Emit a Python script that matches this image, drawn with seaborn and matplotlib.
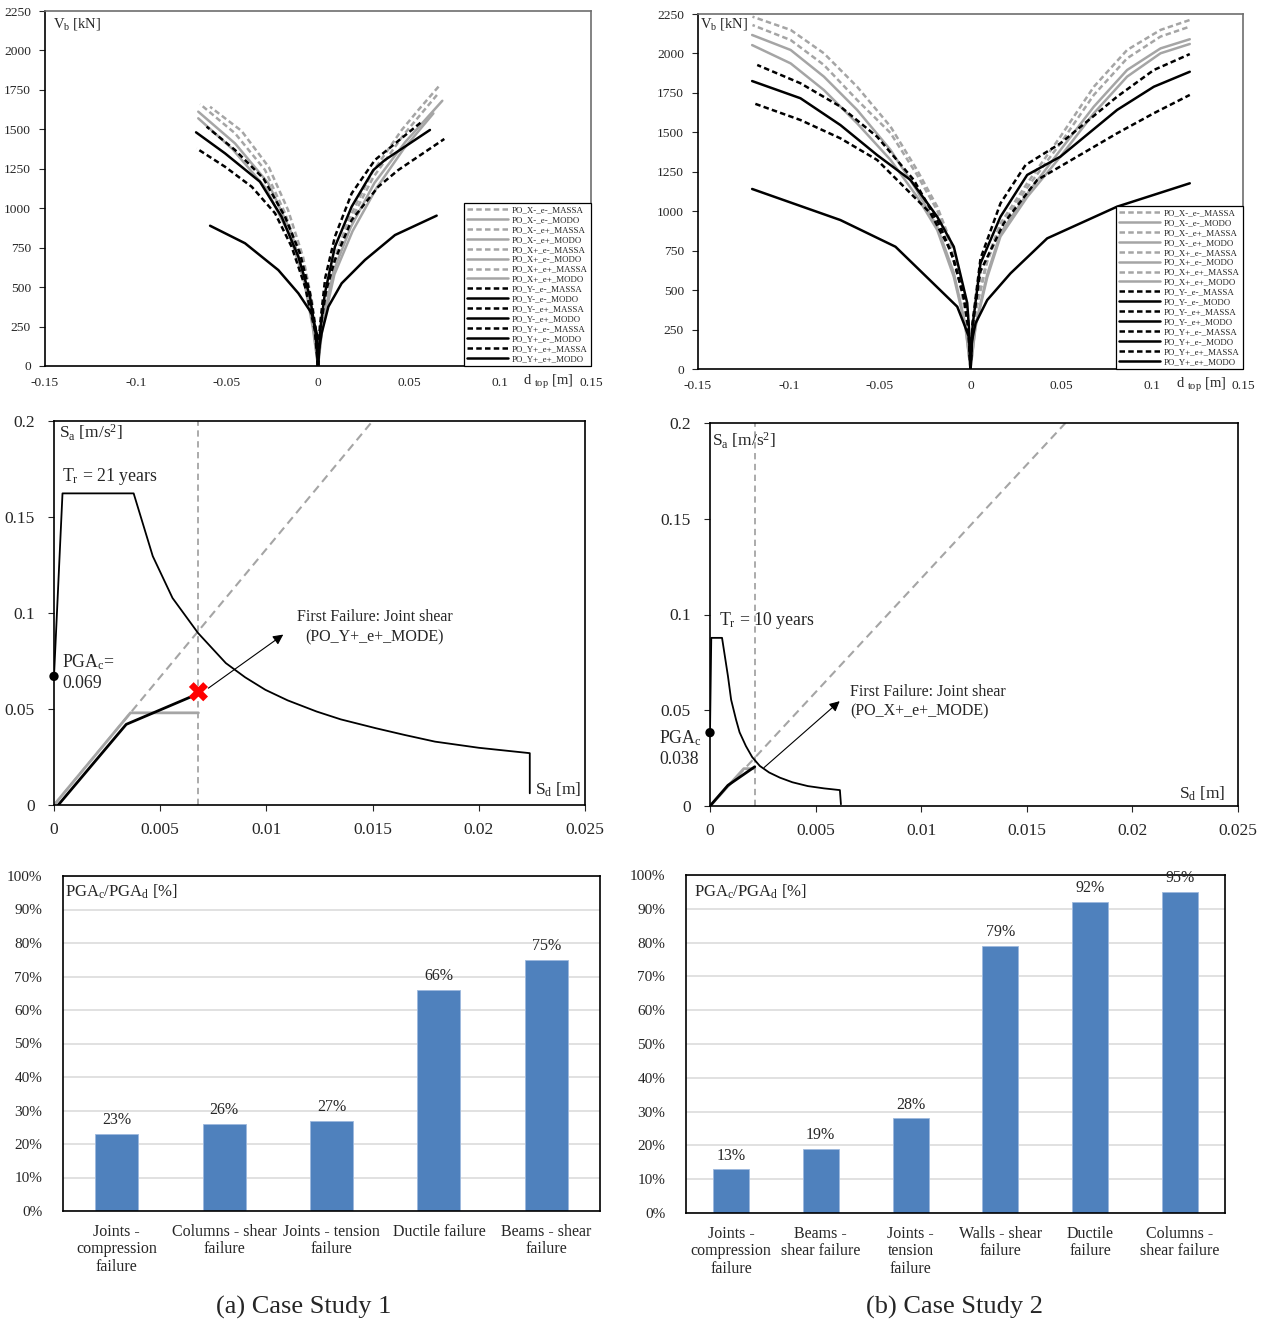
import numpy as np
import matplotlib
matplotlib.use("Agg")
import matplotlib.pyplot as plt
import matplotlib.ticker as mticker
import seaborn as sns

# ---------------- data ----------------
curve_names = ["PO_X-_e-_MASSA", "PO_X-_e-_MODO", "PO_X-_e+_MASSA", "PO_X-_e+_MODO",
               "PO_X+_e-_MASSA", "PO_X+_e-_MODO", "PO_X+_e+_MASSA", "PO_X+_e+_MODO",
               "PO_Y-_e-_MASSA", "PO_Y-_e-_MODO", "PO_Y-_e+_MASSA", "PO_Y-_e+_MODO",
               "PO_Y+_e-_MASSA", "PO_Y+_e-_MODO", "PO_Y+_e+_MASSA", "PO_Y+_e+_MODO"]

# case study 1 pushover curves (d_top [m], Vb [kN]), same order as curve_names
cs1_d = [
    [0, -0.0012, -0.0035, -0.009, -0.0181, -0.0291, -0.0456, -0.0648],
    [0, -0.0026, -0.0071, -0.0145, -0.0273, -0.0456, -0.0658],
    [0, -0.001, -0.003, -0.0082, -0.0165, -0.027, -0.042, -0.0593],
    [0, -0.0028, -0.0075, -0.0152, -0.0285, -0.047, -0.0658],
    [0, 0.0012, 0.0075, 0.0167, 0.0295, 0.046, 0.0551, 0.067],
    [0, 0.0022, 0.0085, 0.018, 0.031, 0.048, 0.0683],
    [0, 0.0012, 0.0078, 0.0172, 0.0303, 0.047, 0.0661],
    [0, 0.0024, 0.009, 0.019, 0.032, 0.047, 0.0634],
    [0, -0.0012, -0.0044, -0.0099, -0.0181, -0.03, -0.0456, -0.0612],
    [0, -0.0013, -0.0044, -0.0108, -0.02, -0.0319, -0.0511, -0.067],
    [0, -0.0018, -0.0071, -0.0145, -0.0236, -0.0364, -0.0511, -0.0667],
    [0, -0.0007, -0.0035, -0.0108, -0.0218, -0.0401, -0.0593],
    [0, 0.001, 0.004, 0.0093, 0.0185, 0.0313, 0.057],
    [0, 0.0012, 0.0038, 0.0093, 0.0185, 0.0304, 0.0368, 0.0615],
    [0, 0.0012, 0.0045, 0.0093, 0.0185, 0.0331, 0.0441, 0.0694],
    [0, 0.0008, 0.002, 0.0057, 0.013, 0.0258, 0.0423, 0.0652],
]
cs1_v = [
    [0, 200, 376, 672, 968, 1242, 1475, 1660],
    [0, 249, 545, 841, 1158, 1411, 1612],
    [0, 200, 390, 690, 990, 1260, 1490, 1643],
    [0, 240, 530, 820, 1125, 1375, 1570],
    [0, 200, 629, 925, 1221, 1496, 1622, 1781],
    [0, 250, 600, 880, 1160, 1420, 1681],
    [0, 200, 615, 905, 1195, 1465, 1728],
    [0, 240, 580, 855, 1125, 1375, 1601],
    [0, 230, 461, 714, 946, 1189, 1369, 1517],
    [0, 207, 439, 693, 946, 1168, 1348, 1481],
    [0, 230, 503, 756, 968, 1136, 1263, 1379],
    [0, 207, 334, 461, 608, 778, 889],
    [0, 250, 560, 820, 1094, 1306, 1548],
    [0, 230, 461, 756, 1010, 1242, 1306, 1496],
    [0, 230, 480, 672, 925, 1136, 1242, 1439],
    [0, 120, 207, 376, 524, 672, 830, 953],
]

# case study 2 pushover curves
cs2_d = [
    [0, -0.0028, -0.0092, -0.0183, -0.0294, -0.044, -0.0624, -0.0807, -0.099, -0.12],
    [0, -0.0028, -0.0092, -0.0183, -0.0294, -0.044, -0.0624, -0.0807, -0.099, -0.1202],
    [0, -0.0028, -0.0092, -0.0183, -0.0294, -0.044, -0.0624, -0.0807, -0.099, -0.12],
    [0, -0.0028, -0.0092, -0.0183, -0.0294, -0.044, -0.0624, -0.0807, -0.099, -0.1202],
    [0, 0.0028, 0.0092, 0.0165, 0.0312, 0.0495, 0.0679, 0.0862, 0.1046, 0.1207],
    [0, 0.0028, 0.0092, 0.0165, 0.0312, 0.0495, 0.0679, 0.0862, 0.1046, 0.1207],
    [0, 0.0028, 0.0092, 0.0165, 0.0312, 0.0495, 0.0679, 0.0862, 0.1046, 0.1207],
    [0, 0.0028, 0.0092, 0.0165, 0.0312, 0.0495, 0.0679, 0.0862, 0.1046, 0.1207],
    [0, -0.0015, -0.0092, -0.0165, -0.0312, -0.0514, -0.0716, -0.0936, -0.1174],
    [0, -0.0005, -0.0018, -0.0092, -0.0183, -0.033, -0.0514, -0.0716, -0.0936, -0.1202],
    [0, -0.0012, -0.004, -0.011, -0.022, -0.0348, -0.0514, -0.0716, -0.0936, -0.1193],
    [0, -0.0008, -0.0037, -0.0073, -0.0413, -0.0716, -0.1202],
    [0, 0.0012, 0.0055, 0.0165, 0.0303, 0.0495, 0.0807, 0.1009, 0.1207],
    [0, 0.0012, 0.0055, 0.0165, 0.0312, 0.0495, 0.0807, 0.1009, 0.1207],
    [0, 0.0012, 0.0055, 0.0183, 0.0367, 0.0587, 0.0807, 0.1009, 0.1207],
    [0, 0.0008, 0.0028, 0.0092, 0.022, 0.0422, 0.0807, 0.1207],
]
cs2_v = [
    [0, 374, 754, 1029, 1261, 1536, 1789, 2001, 2149, 2233],
    [0, 280, 610, 900, 1130, 1388, 1642, 1853, 2022, 2117],
    [0, 360, 735, 1005, 1230, 1495, 1705, 1927, 2085, 2180],
    [0, 268, 585, 881, 1092, 1325, 1557, 1768, 1937, 2053],
    [0, 374, 700, 923, 1177, 1473, 1789, 2022, 2149, 2212],
    [0, 280, 600, 860, 1110, 1388, 1663, 1895, 2032, 2090],
    [0, 360, 680, 900, 1150, 1430, 1737, 1969, 2107, 2170],
    [0, 268, 580, 840, 1090, 1346, 1621, 1853, 2001, 2060],
    [0, 350, 691, 902, 1198, 1472, 1663, 1811, 1927],
    [0, 200, 418, 775, 965, 1198, 1356, 1546, 1716, 1825],
    [0, 250, 480, 754, 987, 1134, 1325, 1462, 1578, 1684],
    [0, 200, 290, 395, 775, 944, 1141],
    [0, 300, 700, 1050, 1293, 1430, 1726, 1895, 1996],
    [0, 280, 670, 965, 1230, 1346, 1642, 1789, 1884],
    [0, 280, 620, 923, 1198, 1346, 1494, 1621, 1737],
    [0, 180, 290, 437, 606, 828, 1029, 1177],
]

# ADRS - case study 1 (Tr = 21 years)
cs1_spec_sd = [0, 0.0004, 0.00375, 0.00465, 0.00558, 0.00678, 0.00809, 0.009, 0.00995, 0.011,
               0.01236, 0.0135, 0.01515, 0.0165, 0.01794, 0.02, 0.0224, 0.0224]
cs1_spec_sa = [0.067, 0.1623, 0.1623, 0.1296, 0.1078, 0.0896, 0.0739, 0.0665, 0.06, 0.0545,
               0.0487, 0.0446, 0.04, 0.0365, 0.033, 0.0298, 0.027, 0.0061]
cs1_diag_sd = [0, 0.015]
cs1_diag_sa = [0, 0.2]
cs1_sd_fail = 0.0068
cs1_bil_sd = [0, 0.0036, 0.0068]
cs1_bil_sa = [0, 0.048, 0.048]
cs1_cap_sd = [0.0002, 0.0034, 0.0068]
cs1_cap_sa = [0, 0.042, 0.058]
cs1_fail_pt = (0.0068, 0.059)
cs1_pgac = 0.067

# ADRS - case study 2 (Tr = 10 years)
cs2_spec_sd = [0, 0.00006, 0.00057, 0.00085, 0.001, 0.00123, 0.0014, 0.0017, 0.002, 0.00236,
               0.0028, 0.00331, 0.0039, 0.00463, 0.0054, 0.00615, 0.0062]
cs2_spec_sa = [0.0383, 0.0878, 0.0878, 0.0678, 0.0555, 0.0452, 0.0385, 0.0313, 0.0255, 0.0209,
               0.0175, 0.0148, 0.0124, 0.0104, 0.0092, 0.0083, 0.0009]
cs2_diag_sd = [0, 0.01683]
cs2_diag_sa = [0, 0.2]
cs2_sd_fail = 0.00212
cs2_bil_sd = [0, 0.0016, 0.00212]
cs2_bil_sa = [0, 0.0195, 0.0195]
cs2_cap_sd = [0, 0.00085, 0.00212]
cs2_cap_sa = [0, 0.0108, 0.0205]
cs2_pgac = 0.0383

# PGAc/PGAd bars
cs1_cats = ["Joints -\ncompression\nfailure", "Columns - shear\nfailure", "Joints - tension\nfailure",
            "Ductile failure", "Beams - shear\nfailure"]
cs1_ratio = [23, 26, 27, 66, 75]
cs2_cats = ["Joints -\ncompression\nfailure", "Beams -\nshear failure", "Joints -\ntension\nfailure",
            "Walls - shear\nfailure", "Ductile\nfailure", "Columns -\nshear failure"]
cs2_ratio = [13, 19, 28, 79, 92, 95]

top_xticks = [-0.15, -0.1, -0.05, 0, 0.05, 0.1, 0.15]
top_yticks = [0, 250, 500, 750, 1000, 1250, 1500, 1750, 2000, 2250]
mid_xticks = [0, 0.005, 0.01, 0.015, 0.02, 0.025]
mid_yticks = [0, 0.05, 0.1, 0.15, 0.2]

# ---------------- style ----------------
sns.set_style("white")
plt.rcParams['font.family'] = ['Liberation Serif', 'DejaVu Serif']
plt.rcParams['mathtext.fontset'] = 'custom'
plt.rcParams['mathtext.rm'] = 'Liberation Serif'
plt.rcParams['mathtext.it'] = 'Liberation Serif:italic'

GRAY = '#A5A5A5'
BLUE = '#4F81BD'
W, H = 1267, 1322


def box(l, t, r, b):
    return [l / W, 1 - b / H, (r - l) / W, (b - t) / H]


def curve_style(name):
    color = GRAY if '_X' in name else 'black'
    ls = (0, (2.2, 1.3)) if 'MASSA' in name else '-'
    return color, ls


fig = plt.figure(figsize=(W / 100, H / 100), dpi=100)


def pushover(ax, d_list, v_list, lab_pos, xlab_x):
    for name, d, v in zip(curve_names, d_list, v_list):
        c, ls = curve_style(name)
        sns.lineplot(x=d, y=v, ax=ax, color=c, linestyle=ls, lw=1.8,
                     sort=False, estimator=None, label=name)
    ax.set_xlim(-0.15, 0.15)
    ax.set_ylim(0, 2250)
    ax.set_xticks(top_xticks)
    ax.set_xticklabels(['%g' % t for t in top_xticks])
    ax.set_yticks(top_yticks)
    ax.tick_params(axis='x', length=0, pad=8, labelsize=9.7)
    ax.tick_params(axis='y', direction='out', length=4, width=0.8, pad=6, labelsize=9.7, left=True)
    ax.set_xlabel('')
    ax.set_ylabel('')
    for s in ['top', 'right']:
        ax.spines[s].set_color('#6e6e6e')
    for s in ['left', 'bottom']:
        ax.spines[s].set_color('black')
    for s in ax.spines.values():
        s.set_linewidth(1.2)
    leg = ax.legend(loc='lower right', fontsize=6.4, frameon=True, fancybox=False,
                    edgecolor='black', framealpha=1, borderaxespad=0, labelspacing=0.19,
                    handlelength=4.7, handletextpad=0.4, borderpad=0.35)
    leg.get_frame().set_linewidth(0.9)
    ax.text(lab_pos[0], lab_pos[1], r'V$_\mathregular{b}$ [kN]', transform=ax.transAxes,
            ha='left', va='center', fontsize=10.5)
    ax.annotate(r'd $_\mathregular{top}$ [m]', xy=(xlab_x, 0), xycoords=('data', 'axes fraction'),
                xytext=(0, -11.5), textcoords='offset points', ha='center', va='center',
                fontsize=10.5, annotation_clip=False)


ax1 = fig.add_axes(box(45, 11, 591, 366))
pushover(ax1, cs1_d, cs1_v, (0.015, 0.963), 0.1264)
ax2 = fig.add_axes(box(698, 14, 1243, 369))
pushover(ax2, cs2_d, cs2_v, (0.004, 0.972), 0.127)


def adrs(ax, spec_sd, spec_sa, diag_sd, diag_sa, sd_fail, bil_sd, bil_sa, cap_sd, cap_sa, pgac):
    sns.lineplot(x=diag_sd, y=diag_sa, ax=ax, color=GRAY, lw=1.5, linestyle=(0, (4, 2.5)),
                 sort=False, estimator=None)
    ax.axvline(sd_fail, color=GRAY, lw=1.3, linestyle=(0, (3.5, 2.5)))
    sns.lineplot(x=spec_sd, y=spec_sa, ax=ax, color='black', lw=1.3, sort=False, estimator=None)
    sns.lineplot(x=bil_sd, y=bil_sa, ax=ax, color=GRAY, lw=2.0, sort=False, estimator=None)
    sns.lineplot(x=cap_sd, y=cap_sa, ax=ax, color='black', lw=2.0, sort=False, estimator=None)
    sns.scatterplot(x=[0], y=[pgac], ax=ax, color='black', s=45, zorder=6, clip_on=False,
                    edgecolor='none')
    ax.set_xlim(0, 0.025)
    ax.set_ylim(0, 0.2)
    ax.set_xticks(mid_xticks)
    ax.set_xticklabels(['%g' % t for t in mid_xticks])
    ax.set_yticks(mid_yticks)
    ax.set_yticklabels(['%g' % t for t in mid_yticks])
    ax.tick_params(direction='out', length=4, width=0.8, labelsize=12.5, left=True, bottom=True)
    ax.tick_params(axis='x', pad=8)
    ax.tick_params(axis='y', pad=10)
    ax.set_xlabel('')
    ax.set_ylabel('')
    for s in ax.spines.values():
        s.set_color('black')
        s.set_linewidth(1.2)


ax3 = fig.add_axes(box(54, 421, 585, 805))
adrs(ax3, cs1_spec_sd, cs1_spec_sa, cs1_diag_sd, cs1_diag_sa, cs1_sd_fail,
     cs1_bil_sd, cs1_bil_sa, cs1_cap_sd, cs1_cap_sa, cs1_pgac)
sns.scatterplot(x=[cs1_fail_pt[0]], y=[cs1_fail_pt[1]], ax=ax3, marker='X', s=190,
                color='red', edgecolor='none', zorder=7)
ax3.annotate('', xy=(0.0109, 0.0896), xytext=(0.00716, 0.0600),
             arrowprops=dict(arrowstyle='-|>', color='black', lw=0.8, mutation_scale=15))
ax3.text(0.0151, 0.0979, 'First Failure: Joint shear', ha='center', va='center', fontsize=11.5)
ax3.text(0.0151, 0.0875, '(PO_Y+_e+_MODE)', ha='center', va='center', fontsize=11.5)
ax3.text(0.00038, 0.171, r'T$_\mathregular{r}$ = 21 years', ha='left', va='center', fontsize=12.8)
ax3.text(0.00038, 0.0745, r'PGA$_\mathregular{c}$=', ha='left', va='center', fontsize=12.8)
ax3.text(0.00038, 0.0632, '0.069', ha='left', va='center', fontsize=12.8)
ax3.text(0.009, 0.969, r'S$_\mathregular{a}$ [m/s$^\mathregular{2}$]', transform=ax3.transAxes,
         ha='left', va='center', fontsize=12.5)
ax3.text(0.994, 0.039, r'S$_\mathregular{d}$ [m]', transform=ax3.transAxes,
         ha='right', va='center', fontsize=12.5)

ax4 = fig.add_axes(box(710, 423, 1238, 806))
adrs(ax4, cs2_spec_sd, cs2_spec_sa, cs2_diag_sd, cs2_diag_sa, cs2_sd_fail,
     cs2_bil_sd, cs2_bil_sa, cs2_cap_sd, cs2_cap_sa, cs2_pgac)
ax4.annotate('', xy=(0.00624, 0.0557), xytext=(0.00246, 0.0191),
             arrowprops=dict(arrowstyle='-|>', color='black', lw=0.8, mutation_scale=15))
ax4.text(0.00663, 0.0595, 'First Failure: Joint shear', ha='left', va='center', fontsize=11.5)
ax4.text(0.00663, 0.0496, '(PO_X+_e+_MODE)', ha='left', va='center', fontsize=11.5)
ax4.text(0.00043, 0.097, r'T$_\mathregular{r}$ = 10 years', ha='left', va='center', fontsize=12.8)
ax4.text(-0.0024, 0.0355, r'PGA$_\mathregular{c}$', ha='left', va='center', fontsize=12.8)
ax4.text(-0.0024, 0.0245, '0.038', ha='left', va='center', fontsize=12.8)
ax4.text(0.004, 0.953, r'S$_\mathregular{a}$ [m/s$^\mathregular{2}$]', transform=ax4.transAxes,
         ha='left', va='center', fontsize=12.5)
ax4.text(0.977, 0.031, r'S$_\mathregular{d}$ [m]', transform=ax4.transAxes,
         ha='right', va='center', fontsize=12.5)


def bars(ax, cats, vals, label_pos):
    sns.barplot(x=cats, y=vals, ax=ax, color=BLUE, width=0.4, saturation=1,
                edgecolor='#9DB9DE', linewidth=0.6)
    ax.set_ylim(0, 100)
    ax.set_xlim(-0.5, len(cats) - 0.5)
    ax.set_yticks(np.arange(0, 101, 10))
    ax.yaxis.set_major_formatter(mticker.FuncFormatter(lambda v, p: f'{v:.0f}%'))
    ax.yaxis.grid(True, color='#D9D9D9', lw=1.1)
    ax.set_axisbelow(True)
    ax.tick_params(axis='y', length=0, pad=15, labelsize=11)
    ax.tick_params(axis='x', length=0, pad=9)
    ax.set_xticks(range(len(cats)))
    ax.set_xticklabels(cats, fontsize=11.5, linespacing=1.15)
    ax.bar_label(ax.containers[0], fmt='%d%%', padding=4, fontsize=11.5)
    ax.set_xlabel('')
    ax.set_ylabel('')
    for s in ax.spines.values():
        s.set_color('black')
        s.set_linewidth(1.2)
    ax.text(label_pos[0], label_pos[1], r'PGA$_\mathregular{c}$/PGA$_\mathregular{d}$ [%]',
            transform=ax.transAxes, ha='left', va='center', fontsize=12)


ax5 = fig.add_axes(box(63, 876, 600, 1211))
bars(ax5, cs1_cats, cs1_ratio, (0.004, 0.952))
ax6 = fig.add_axes(box(686, 875, 1225, 1213))
bars(ax6, cs2_cats, cs2_ratio, (0.015, 0.95))

fig.text(304 / W, 1 - 1307 / H, '(a) Case Study 1', ha='center', va='center', fontsize=19)
fig.text(955 / W, 1 - 1307 / H, '(b) Case Study 2', ha='center', va='center', fontsize=19)

plt.savefig('out.png', dpi=100)
